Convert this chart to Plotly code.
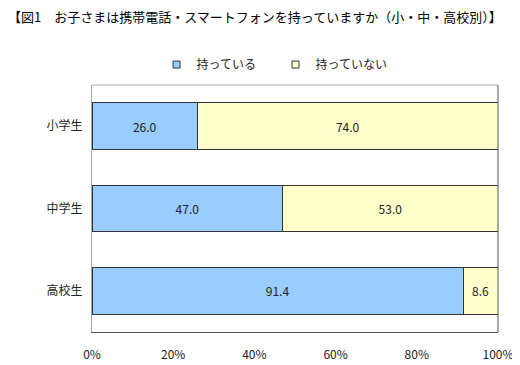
import plotly.graph_objects as go

categories = ["小学生", "中学生", "高校生"]
have = [26.0, 47.0, 91.4]
not_have = [74.0, 53.0, 8.6]
series_names = ["持っている", "持っていない"]
colors = ["#99CCFF", "#FFFFCC"]
tick_vals = [0, 20, 40, 60, 80, 100]
tick_text = ["0%", "20%", "40%", "60%", "80%", "100%"]
title = "【図1\u3000お子さまは携帯電話・スマートフォンを持っていますか（小・中・高校別）】"

FONT = "Noto Sans CJK JP"
fig = go.Figure()
for vals, name, col in [(have, series_names[0], colors[0]), (not_have, series_names[1], colors[1])]:
    fig.add_trace(go.Bar(
        y=categories, x=vals, orientation="h", name=name,
        marker=dict(color=col, line=dict(color="#333333", width=1)),
        text=[f"{v:.1f}" for v in vals], textposition="inside",
        insidetextanchor="middle", textangle=0,
        textfont=dict(size=12, color="#222222", family=FONT),
        width=0.57, showlegend=False, hoverinfo="skip",
    ))
for name, col in zip(series_names, colors):
    fig.add_trace(go.Scatter(
        x=[None], y=[None], mode="markers", name=name,
        marker=dict(symbol="square", size=7, color=col, line=dict(color="#333333", width=1)),
    ))

# page body has an 8px margin, so the figure is sized to fit the 520x365 window
fig.update_layout(
    barmode="stack",
    width=512, height=357,
    margin=dict(l=84, r=22, t=77, b=33, autoexpand=False),
    paper_bgcolor="white", plot_bgcolor="white",
    font=dict(family=FONT, size=12, color="#222222"),
    title=dict(text=title, x=0.0, xanchor="left", y=0.985, yanchor="top",
               font=dict(size=13, family=FONT, color="#000000")),
    legend=dict(orientation="h", traceorder="normal", x=0.159, xanchor="left",
                y=1.024, yanchor="bottom", bgcolor="rgba(0,0,0,0)",
                font=dict(size=12), itemwidth=30, tracegroupgap=0,
                entrywidth=74, entrywidthmode="pixels"),
    xaxis=dict(range=[0, 100], tickvals=tick_vals, ticktext=tick_text,
               showgrid=False, zeroline=False, showline=True, linecolor="#555555",
               linewidth=1, ticks="", ticklabelstandoff=12, tickfont=dict(size=12),
               automargin=False),
    yaxis=dict(autorange="reversed", showgrid=False, showline=True,
               linecolor="#A8A8A8", linewidth=1, ticks="", ticklabelstandoff=6,
               tickfont=dict(size=12), automargin=False),
    bargap=0.43,
    shapes=[
        dict(type="line", xref="paper", yref="paper", x0=0, x1=1, y0=1, y1=1,
             line=dict(color="#A8A8A8", width=1)),
        dict(type="line", xref="paper", yref="paper", x0=1, x1=1, y0=0, y1=1,
             line=dict(color="#555555", width=1)),
    ],
)
fig.write_html("out.html")
